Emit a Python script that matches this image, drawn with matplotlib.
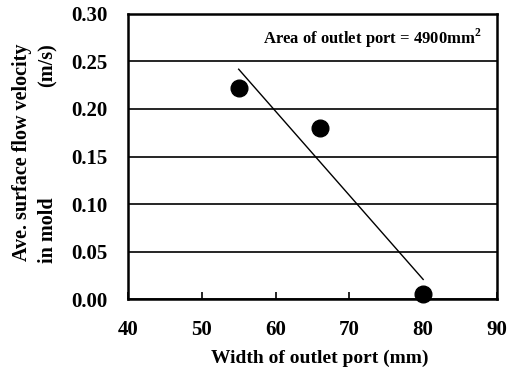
import matplotlib
matplotlib.use('Agg')
import matplotlib.pyplot as plt
import numpy as np

# data
width = np.array([55, 66, 80])            # width of outlet port (mm)
velocity = np.array([0.222, 0.180, 0.005])  # ave. surface flow velocity (m/s)
x_ticks = [40, 50, 60, 70, 80, 90]
y_ticks = [0.00, 0.05, 0.10, 0.15, 0.20, 0.25, 0.30]

plt.rcParams['font.family'] = ['Liberation Serif', 'DejaVu Serif']
plt.rcParams['font.weight'] = 'bold'
plt.rcParams['mathtext.fontset'] = 'custom'
plt.rcParams['mathtext.bf'] = 'Liberation Serif:bold'
plt.rcParams['mathtext.rm'] = 'Liberation Serif:bold'

fig = plt.figure(figsize=(5.15, 3.74), dpi=100)
ax = fig.add_axes([0.2485, 0.2005, 0.7165, 0.7621])

# linear fit through the points
coef = np.polyfit(width, velocity, 1)
xf = np.array([width.min(), width.max()])
ax.plot(xf, np.polyval(coef, xf), color='black', lw=1.0, zorder=3)

ax.plot(width, velocity, 'o', color='black', ms=12, zorder=4, clip_on=False)

ax.set_xlim(40, 90)
ax.set_ylim(0, 0.30)
ax.set_xticks(x_ticks)
ax.set_yticks(y_ticks)
ax.set_yticklabels(['%.2f' % v for v in y_ticks])
ax.yaxis.grid(True, color='black', lw=1.2)
ax.set_axisbelow(True)

ax.tick_params(axis='x', direction='in', length=5, width=1.2, labelsize=15, pad=15)
ax.tick_params(axis='y', length=0, labelsize=15, pad=15)
for lab in ax.get_xticklabels() + ax.get_yticklabels():
    lab.set_fontweight('bold')
for s in ax.spines.values():
    s.set_linewidth(1.8)

ax.set_xlabel('Width of outlet port (mm)', fontsize=14, fontweight='bold', labelpad=7)
ax.xaxis.label.set_x(0.52)

# two-line y label, second line justified
fig.text(22/515, 1 - 152/374, 'Ave. surface flow velocity', rotation=90,
         ha='center', va='center', fontsize=14.5, fontweight='bold')
fig.text(48/515, 1 - 263/374, 'in mold', rotation=90,
         ha='center', va='bottom', fontsize=14.5, fontweight='bold')
fig.text(48/515, 1 - 43/374, '(m/s)', rotation=90,
         ha='center', va='top', fontsize=14.5, fontweight='bold')

ax.text(0.365, 0.915, 'Area of outlet port = 4900mm$^{\\mathbf{2}}$', transform=ax.transAxes,
        fontsize=12, fontweight='bold', ha='left', va='center')

fig.savefig('out.png', dpi=100)
